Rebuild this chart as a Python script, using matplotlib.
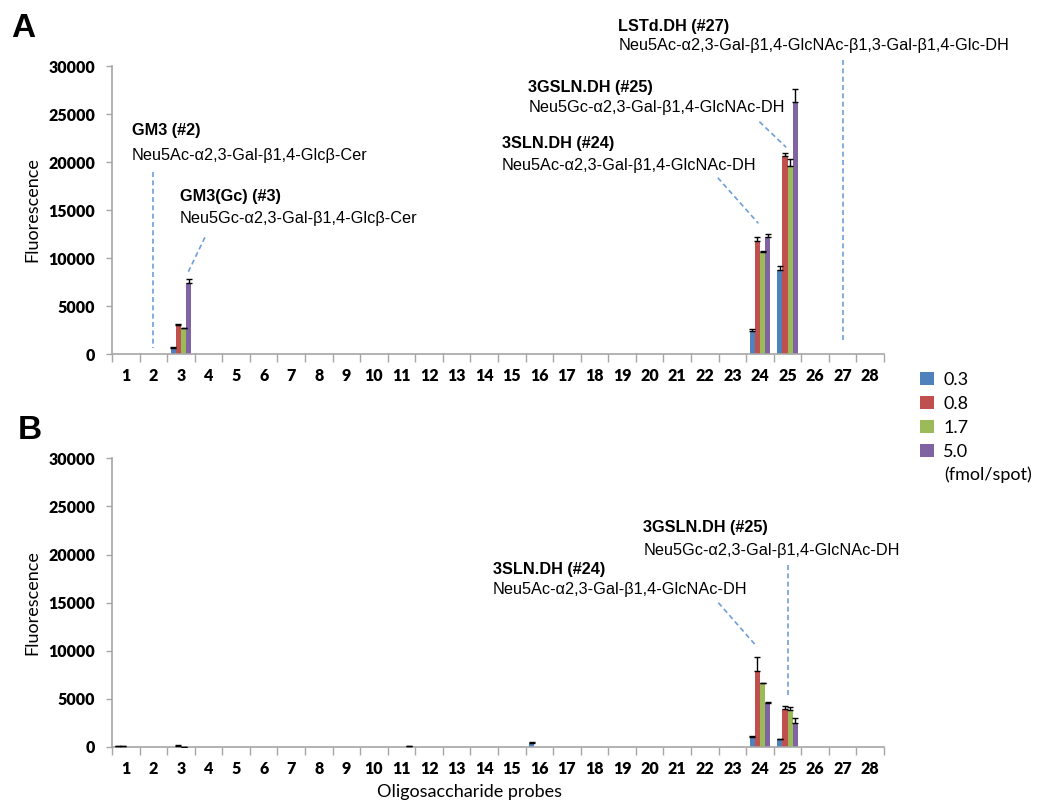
import numpy as np
import matplotlib
matplotlib.use('Agg')
import matplotlib.pyplot as plt
from matplotlib.patches import Patch

probes = list(range(1, 29))
doses = ['0.3', '0.8', '1.7', '5.0']
colors = ['#4F81BD', '#C0504D', '#9BBB59', '#8064A2']

# panel A  (fluorescence per probe, 4 doses)
a_03 = [0, 0, 590, 0, 0, 0, 0, 0, 0, 0,
        0, 0, 0, 0, 0, 0, 0, 0, 0, 0,
        0, 0, 0, 2430, 8750, 0, 0, 0]
a_08 = [0, 0, 3020, 0, 0, 0, 0, 0, 0, 0,
        0, 0, 0, 0, 0, 0, 0, 0, 0, 0,
        0, 0, 0, 11770, 20625, 0, 0, 0]
a_17 = [0, 0, 2670, 0, 0, 0, 0, 0, 0, 0,
        0, 0, 0, 0, 0, 0, 0, 0, 0, 0,
        0, 0, 0, 10660, 19580, 0, 0, 0]
a_50 = [0, 0, 7430, 0, 0, 0, 0, 0, 0, 0,
        0, 0, 0, 0, 0, 0, 0, 0, 0, 0,
        0, 0, 0, 12220, 26250, 0, 0, 0]
a_03_err = [0, 0, 170, 0, 0, 0, 0, 0, 0, 0,
            0, 0, 0, 0, 0, 0, 0, 0, 0, 0,
            0, 0, 0, 140, 450, 0, 0, 0]
a_08_err = [0, 0, 100, 0, 0, 0, 0, 0, 0, 0,
            0, 0, 0, 0, 0, 0, 0, 0, 0, 0,
            0, 0, 0, 450, 280, 0, 0, 0]
a_17_err = [0, 0, 80, 0, 0, 0, 0, 0, 0, 0,
            0, 0, 0, 0, 0, 0, 0, 0, 0, 0,
            0, 0, 0, 30, 730, 0, 0, 0]
a_50_err = [0, 0, 350, 0, 0, 0, 0, 0, 0, 0,
            0, 0, 0, 0, 0, 0, 0, 0, 0, 0,
            0, 0, 0, 300, 1350, 0, 0, 0]

# panel B
b_03 = [60, 0, 0, 0, 0, 0, 0, 0, 0, 0,
        0, 0, 0, 0, 0, 380, 0, 0, 0, 0,
        0, 0, 0, 1070, 800, 0, 0, 0]
b_08 = [80, 0, 120, 0, 0, 0, 0, 0, 0, 0,
        0, 0, 0, 0, 0, 0, 0, 0, 0, 0,
        0, 0, 0, 7900, 3950, 0, 0, 0]
b_17 = [0, 0, 40, 0, 0, 0, 0, 0, 0, 0,
        0, 0, 0, 0, 0, 0, 0, 0, 0, 0,
        0, 0, 0, 6620, 3850, 0, 0, 0]
b_50 = [0, 0, 0, 0, 0, 0, 0, 0, 0, 0,
        60, 0, 0, 0, 0, 0, 0, 0, 0, 0,
        0, 0, 0, 4540, 2530, 0, 0, 0]
b_03_err = [40, 0, 0, 0, 0, 0, 0, 0, 0, 0,
            0, 0, 0, 0, 0, 150, 0, 0, 0, 0,
            0, 0, 0, 60, 60, 0, 0, 0]
b_08_err = [60, 0, 130, 0, 0, 0, 0, 0, 0, 0,
            0, 0, 0, 0, 0, 0, 0, 0, 0, 0,
            0, 0, 0, 1480, 340, 0, 0, 0]
b_17_err = [0, 0, 0, 0, 0, 0, 0, 0, 0, 0,
            0, 0, 0, 0, 0, 0, 0, 0, 0, 0,
            0, 0, 0, 40, 270, 0, 0, 0]
b_50_err = [0, 0, 0, 0, 0, 0, 0, 0, 0, 0,
            40, 0, 0, 0, 0, 0, 0, 0, 0, 0,
            0, 0, 0, 160, 450, 0, 0, 0]

# annotations: (bold name, structure, text x, title y, subtitle y, leader line)
ann_a = [
    ('GM3 (#2)', 'Neu5Ac-\u03b12,3-Gal-\u03b21,4-Glc\u03b2-Cer', 1.21, 23333, 20729,
     [(2.0, 18927), (2.0, 594)]),
    ('GM3(Gc) (#3)', 'Neu5Gc-\u03b12,3-Gal-\u03b21,4-Glc\u03b2-Cer', 2.97, 16458, 14063,
     [(3.87, 12156), (3.27, 8573)]),
    ('LSTd.DH (#27)', 'Neu5Ac-\u03b12,3-Gal-\u03b21,4-GlcNAc-\u03b21,3-Gal-\u03b21,4-Glc-DH',
     18.86, 34167, 32115, [(27.0, 30625), (27.0, 1146)]),
    ('3GSLN.DH (#25)', 'Neu5Gc-\u03b12,3-Gal-\u03b21,4-GlcNAc-DH', 15.6, 27781, 25656,
     [(23.98, 24198), (24.95, 21531)]),
    ('3SLN.DH (#24)', 'Neu5Ac-\u03b12,3-Gal-\u03b21,4-GlcNAc-DH', 14.63, 21948, 19615,
     [(22.47, 18365), (23.94, 13615)]),
]
ann_b = [
    ('3GSLN.DH (#25)', 'Neu5Gc-\u03b12,3-Gal-\u03b21,4-GlcNAc-DH', 19.77, 22830, 20396,
     [(25.0, 18912), (25.0, 5092)]),
    ('3SLN.DH (#24)', 'Neu5Ac-\u03b12,3-Gal-\u03b21,4-GlcNAc-DH', 14.31, 18393, 16387,
     [(22.49, 14995), (23.89, 10421)]),
]

TICKFONT = 'Lato'
ANNFONT = 'Liberation Sans'
GRAY = '#a6a6a6'
LEADER = '#6f9fd8'
ANNSIZE = 11.7


def draw_panel(ax, series, errs, anns):
    x = np.array(probes, dtype=float)
    w = 0.1875
    for i, (vals, err) in enumerate(zip(series, errs)):
        vals = np.array(vals, dtype=float)
        err = np.array(err, dtype=float)
        xs = x + (i - 1.5) * w
        ax.bar(xs, vals, width=w, color=colors[i], zorder=2)
        keep = (vals > 0) | (err > 0)
        ax.errorbar(xs[keep], vals[keep], yerr=[np.zeros(keep.sum()), err[keep]],
                    fmt='none', ecolor='black', elinewidth=1, capsize=2.4,
                    capthick=1, zorder=3)

    ax.set_xlim(0.5, 28.5)
    ax.set_ylim(0, 30000)
    ax.set_yticks(np.arange(0, 30001, 5000))
    ax.set_xticks(x)
    ax.set_xticks(np.arange(0.5, 28.6, 1), minor=True)
    ax.tick_params(axis='x', which='major', length=0, pad=10)
    ax.tick_params(axis='x', which='minor', length=6, color=GRAY, width=1)
    ax.tick_params(axis='y', length=4, color=GRAY, width=1, pad=8)
    for lab in ax.get_xticklabels() + ax.get_yticklabels():
        lab.set_fontfamily(TICKFONT)
        lab.set_fontweight('heavy')
        lab.set_fontsize(11.5)
    for s in ['top', 'right']:
        ax.spines[s].set_visible(False)
    for s in ['left', 'bottom']:
        ax.spines[s].set_color(GRAY)
        ax.spines[s].set_linewidth(1.2)
    ax.set_ylabel('Fluorescence', fontfamily=TICKFONT, fontsize=13, labelpad=6)

    for name, struct, tx, ty1, ty2, line in anns:
        ax.text(tx, ty1, name, fontfamily=ANNFONT, fontweight='bold', fontsize=ANNSIZE,
                va='center', ha='left', clip_on=False)
        ax.text(tx, ty2, struct, fontfamily=ANNFONT, fontsize=ANNSIZE,
                va='center', ha='left', clip_on=False)
        (x0, y0), (x1, y1) = line
        ax.plot([x0, x1], [y0, y1], color=LEADER, lw=1.2, dashes=(3, 2),
                clip_on=False, zorder=4)


fig = plt.figure(figsize=(10.37, 8.02), dpi=100)
ax_a = fig.add_axes([0.108, 0.5586, 0.7445, 0.3591])
ax_b = fig.add_axes([0.108, 0.0686, 0.7445, 0.3600])

draw_panel(ax_a, [a_03, a_08, a_17, a_50], [a_03_err, a_08_err, a_17_err, a_50_err], ann_a)
draw_panel(ax_b, [b_03, b_08, b_17, b_50], [b_03_err, b_08_err, b_17_err, b_50_err], ann_b)

fig.text(0.4525, 0.0128, 'Oligosaccharide probes', fontfamily=TICKFONT, fontsize=13,
         ha='center', va='center')

fig.text(0.0227, 0.9645, 'A', fontfamily=ANNFONT, fontweight='bold', fontsize=24,
         ha='center', va='center')
fig.text(0.0285, 0.4630, 'B', fontfamily=ANNFONT, fontweight='bold', fontsize=24,
         ha='center', va='center')

handles = [Patch(facecolor=c, edgecolor='none') for c in colors]
leg = fig.legend(handles, doses, loc='upper left', bbox_to_anchor=(0.8875, 0.5365),
                 frameon=False, handlelength=0.78, handleheight=0.78, handletextpad=0.5,
                 labelspacing=0.44, borderaxespad=0, borderpad=0,
                 prop={'family': TICKFONT, 'size': 13})
fig.text(0.9103, 0.4086, '(fmol/spot)', fontfamily=TICKFONT, fontsize=13,
         ha='left', va='center')

fig.savefig('out.png', dpi=100)
